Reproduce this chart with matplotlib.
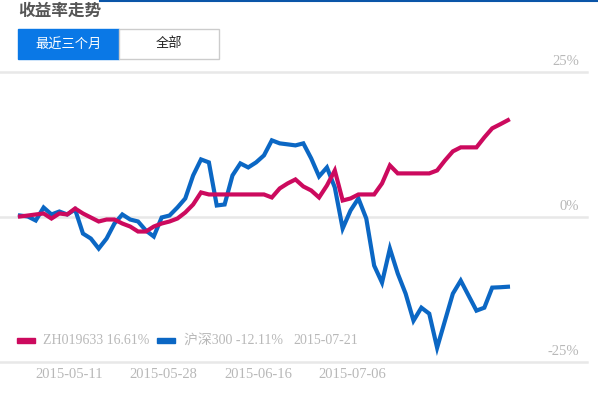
import matplotlib
matplotlib.use("Agg")
import matplotlib.pyplot as plt
from matplotlib.patches import Rectangle

# 收益率数据 (%)
zh_ret = [0, 0.17, 0.35, 0.52, -0.35, 0.52, 0.35, 1.38, 0.52, -0.17,
          -0.86, -0.52, -0.52, -1.21, -1.73, -2.59, -2.59, -1.73, -1.21, -0.86,
          -0.35, 0.69, 2.07, 4.15, 3.80, 3.80, 3.80, 3.80, 3.80, 3.80,
          3.80, 3.80, 3.28, 4.84, 5.70, 6.39, 5.18, 4.49, 3.28, 5.35,
          7.94, 2.76, 3.11, 3.80, 3.80, 3.80, 5.70, 8.81, 7.43, 7.43,
          7.43, 7.43, 7.43, 7.94, 9.67, 11.23, 11.92, 11.92, 11.92, 13.64,
          15.20, 15.89, 16.61]
hs300_ret = [0.17, 0, -0.69, 1.55, 0.35, 0.86, 0.35, 1.21, -2.94, -3.80,
             -5.53, -3.80, -1.21, 0.35, -0.52, -0.86, -2.42, -3.45, -0.17, 0.17,
             1.55, 3.11, 7.08, 9.84, 9.33, 1.90, 2.07, 7.08, 9.15, 8.46,
             9.33, 10.54, 13.13, 12.61, 12.44, 12.26, 12.61, 10.02, 6.91, 8.46,
             5.01, -2.07, 1.04, 3.11, -0.35, -8.46, -11.40, -5.53, -9.84, -13.30,
             -17.96, -15.72, -16.75, -22.63, -17.96, -13.30, -11.05, -13.64, -16.23, -15.72,
             -12.26, -12.20, -12.11]
x_idx = list(range(len(zh_ret)))

tick_idx = [6, 18, 30, 42]
tick_labels = ["2015-05-11", "2015-05-28", "2015-06-16", "2015-07-06"]
y_levels = [25, 0, -25]
y_labels = ["25%", "0%", "-25%"]

W, H = 598, 397
fig = plt.figure(figsize=(W / 100, H / 100), dpi=100, facecolor="white")

def fx(px):
    return px / W

def fy(py):
    return 1 - py / H

serif = ["Liberation Serif", "Noto Sans CJK SC"]
cjk = ["Noto Sans CJK SC", "DejaVu Sans"]
red = "#cc0a5e"
blue = "#0b67c4"
gray_txt = "#b8b8b8"
fs = 10.5

# 图表区域
ax = fig.add_axes([0, fy(361.5), fx(587), (361.5 - 71.5) / H])
ax.set_xlim(-20 / 7.87, (587 - 20) / 7.87)
ax.set_ylim(-25, 25)
ax.axis("off")

for v, lab in zip(y_levels, y_labels):
    ax.axhline(v, color="#e8e8e8", linewidth=1.8, clip_on=False, zorder=1)
    ax.annotate(lab, xy=(579 / 587, v), xycoords=("axes fraction", "data"),
                xytext=(0, 7.5), textcoords="offset points", ha="right", va="center",
                fontsize=fs, color=gray_txt, family=serif)

ax.plot(x_idx, hs300_ret, color=blue, linewidth=3, solid_joinstyle="miter", zorder=3)
ax.plot(x_idx, zh_ret, color=red, linewidth=3, solid_joinstyle="miter", zorder=4)

for i, lab in zip(tick_idx, tick_labels):
    ax.annotate(lab, xy=(i, -25), xycoords="data", xytext=(1.5, -9.5),
                textcoords="offset points", ha="center", va="center",
                fontsize=fs, color=gray_txt, family=serif, annotation_clip=False)

# 图例
fig.patches.append(Rectangle((fx(17), fy(343)), fx(18), 5 / H, color=red,
                             transform=fig.transFigure, figure=fig))
fig.patches.append(Rectangle((fx(157), fy(343)), fx(18), 5 / H, color=blue,
                             transform=fig.transFigure, figure=fig))
fig.text(fx(43), fy(341), "ZH019633 16.61%", ha="left", va="center",
         fontsize=10, color=gray_txt, family=serif)
fig.text(fx(184), fy(341), "沪深300 -12.11%", ha="left", va="center",
         fontsize=10, color=gray_txt, family=serif)
fig.text(fx(293), fy(341), "2015-07-21", ha="left", va="center",
         fontsize=10, color=gray_txt, family=serif)

# 标题和按钮
fig.text(fx(18), fy(11), "收益率走势", ha="left", va="center",
         fontsize=12, fontweight="bold", color="#555555", family=cjk)
fig.lines.append(plt.Line2D([fx(100), 1], [fy(0.8), fy(0.8)], color="#0a55a8",
                            linewidth=1.5, transform=fig.transFigure))
fig.patches.append(Rectangle((fx(18), fy(59)), fx(101), 30 / H, facecolor="#0a78e6",
                             edgecolor="#0a78e6", linewidth=1,
                             transform=fig.transFigure, figure=fig))
fig.patches.append(Rectangle((fx(119), fy(59)), fx(100), 30 / H, facecolor="white",
                             edgecolor="#cccccc", linewidth=1,
                             transform=fig.transFigure, figure=fig))
fig.text(fx(68.5), fy(44), "最近三个月", ha="center", va="center",
         fontsize=9.5, color="white", family=cjk)
fig.text(fx(169), fy(44), "全部", ha="center", va="center",
         fontsize=9.5, color="#222222", family=cjk)

fig.savefig("out.png", dpi=100, facecolor="white")
